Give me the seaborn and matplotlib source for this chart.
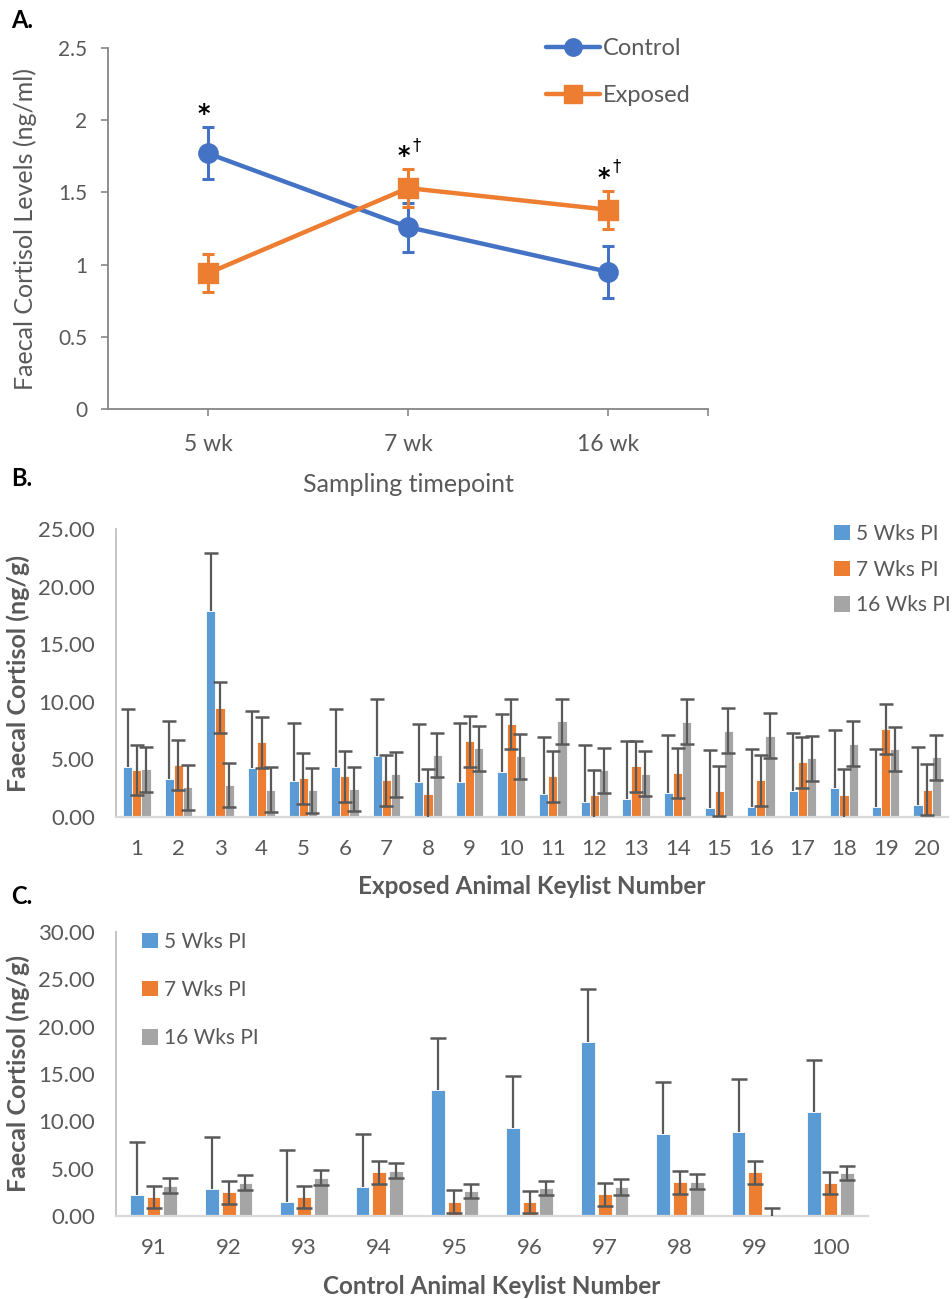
import matplotlib
matplotlib.use("Agg")
import matplotlib.pyplot as plt
from matplotlib.lines import Line2D
from matplotlib.patches import Patch
from matplotlib.container import BarContainer
import numpy as np
import pandas as pd
import seaborn as sns

# ---------------- data ----------------
timepoints = ["5 wk", "7 wk", "16 wk"]
control_mean = [1.77, 1.26, 0.95]
control_err = [0.18, 0.17, 0.18]
exposed_mean = [0.94, 1.53, 1.38]
exposed_err = [0.13, 0.13, 0.13]
annot = ["*", "*\u2020", "*\u2020"]

week_labels = ["5 Wks PI", "7 Wks PI", "16 Wks PI"]

exposed_ids = [str(i) for i in range(1, 21)]
b_wk5 = [4.31, 3.27, 17.90, 4.25, 3.13, 4.34, 5.27, 3.01, 3.07, 3.93,
         2.00, 1.30, 1.54, 2.08, 0.81, 0.90, 2.26, 2.49, 0.84, 1.04]
b_wk5_err = [5.04, 5.03, 5.00, 4.98, 5.06, 5.04, 4.97, 5.06, 5.06, 5.04,
             4.97, 4.98, 5.06, 5.04, 5.03, 4.97, 5.03, 5.04, 5.03, 5.01]
b_wk7 = [4.08, 4.51, 9.49, 6.48, 3.36, 3.53, 3.19, 2.00, 6.57, 8.07,
         3.53, 1.91, 4.40, 3.82, 2.26, 3.19, 4.75, 1.94, 7.64, 2.37]
b_wk7_err = [2.20, 2.20, 2.20, 2.20, 2.20, 2.20, 2.20, 2.20, 2.20, 2.20,
             2.20, 2.20, 2.20, 2.20, 2.20, 2.20, 2.20, 2.20, 2.20, 2.20]
b_wk16 = [4.14, 2.58, 2.78, 2.37, 2.32, 2.43, 3.70, 5.38, 5.96, 5.27,
          8.33, 4.05, 3.76, 8.27, 7.47, 7.06, 5.09, 6.36, 5.90, 5.20]
b_wk16_err = [1.95, 1.95, 1.95, 1.95, 1.95, 1.95, 1.95, 1.95, 1.95, 1.95,
              1.95, 1.95, 1.95, 1.95, 1.95, 1.95, 1.95, 1.95, 1.95, 1.95]

control_ids = [str(i) for i in range(91, 101)]
c_wk5 = [2.20, 2.85, 1.45, 3.09, 13.30, 9.27, 18.40, 8.64, 8.92, 10.97]
c_wk5_err = [5.60, 5.53, 5.55, 5.55, 5.54, 5.53, 5.55, 5.56, 5.58, 5.53]
c_wk7 = [2.00, 2.50, 2.00, 4.60, 1.50, 1.45, 2.29, 3.56, 4.60, 3.49]
c_wk7_err = [1.18, 1.20, 1.16, 1.20, 1.20, 1.18, 1.20, 1.20, 1.20, 1.19]
c_wk16 = [3.20, 3.52, 4.05, 4.80, 2.64, 3.00, 3.06, 3.63, 0.00, 4.55]
c_wk16_err = [0.80, 0.78, 0.80, 0.78, 0.78, 0.75, 0.80, 0.76, 0.80, 0.78]

# ---------------- style ----------------
sns.set_theme(style="white")
FONT = ["Lato", "DejaVu Sans"]
plt.rcParams["font.family"] = FONT
TXT = "#595959"
BLUE_A, ORANGE_A = "#4472C4", "#ED7D31"
BAR_COLORS = ["#5B9BD5", "#ED7D31", "#A5A5A5"]
ERR_C = "#595959"

W, H = 953, 1299
fig = plt.figure(figsize=(W / 100, H / 100), dpi=100)


def fax(l, t, r, b):
    return fig.add_axes([l / W, 1 - b / H, (r - l) / W, (b - t) / H])


# ---------------- panel A ----------------
axA = fax(108, 48, 708, 409)
dfA = pd.DataFrame({
    "time": timepoints * 2,
    "value": control_mean + exposed_mean,
    "group": ["Control"] * 3 + ["Exposed"] * 3,
})
sns.pointplot(data=dfA, x="time", y="value", hue="group", order=timepoints,
              hue_order=["Control", "Exposed"], palette=[BLUE_A, ORANGE_A],
              markers=["o", "s"], errorbar=None, linewidth=3.2, markersize=12.5,
              ax=axA, legend=False)
xs = np.arange(len(timepoints))
axA.errorbar(xs, control_mean, yerr=control_err, fmt="none", ecolor=BLUE_A,
             elinewidth=2.2, capsize=4, capthick=2.2, zorder=1.5)
axA.errorbar(xs, exposed_mean, yerr=exposed_err, fmt="none", ecolor=ORANGE_A,
             elinewidth=2.2, capsize=4, capthick=2.2, zorder=3.5)
for ln in axA.lines:
    if ln.get_color() == ORANGE_A:
        ln.set_zorder(3)
tops = [max(c + ce, e + ee) for c, ce, e, ee in
        zip(control_mean, control_err, exposed_mean, exposed_err)]
for i, (t, a) in enumerate(zip(tops, annot)):
    axA.text(i - 0.02, t + 0.09, "*", ha="center", va="center", fontsize=17,
             color="black", family=["DejaVu Sans"], fontweight="bold")
    if "\u2020" in a:
        axA.text(i + 0.045, t + 0.17, "\u2020", ha="center", va="center",
                 fontsize=12, color="black", family=["DejaVu Sans"])
axA.set_xlim(-0.5, 2.5)
axA.set_ylim(0, 2.5)
axA.set_yticks([0, 0.5, 1, 1.5, 2, 2.5])
axA.set_yticklabels(["0", "0.5", "1", "1.5", "2", "2.5"])
axA.set_xticks([0, 1, 2, 2.5])
axA.set_xticklabels(timepoints + [""])
for s in ["top", "right"]:
    axA.spines[s].set_visible(False)
for s in ["left", "bottom"]:
    axA.spines[s].set_color("#868686")
    axA.spines[s].set_linewidth(1.3)
axA.tick_params(axis="y", length=5, width=1.2, color="#868686", pad=10,
                labelsize=15, labelcolor=TXT, left=True)
axA.tick_params(axis="x", length=5, width=1.2, color="#868686", pad=13,
                labelsize=16.5, labelcolor=TXT, bottom=True, direction="out")
axA.set_xlabel("Sampling timepoint", fontsize=18, color=TXT, labelpad=13)
axA.set_ylabel("Faecal Cortisol Levels (ng/ml)", fontsize=18, color=TXT,
               labelpad=15)
handlesA = [Line2D([], [], color=BLUE_A, marker="o", lw=3.2, markersize=12.5),
            Line2D([], [], color=ORANGE_A, marker="s", lw=3.2, markersize=12.5)]
fig.legend(handlesA, ["Control", "Exposed"], loc="upper left",
           bbox_to_anchor=(546 / W, 1 - 38 / H), frameon=False, fontsize=17,
           handlelength=2.3, handletextpad=0.1, labelspacing=1.1,
           borderpad=0, borderaxespad=0, labelcolor=TXT)


# ---------------- bar panels ----------------
def bar_panel(ax, ids, series, errs, ymax, step, width, gap, capsize):
    df = pd.DataFrame({
        "animal": ids * 3,
        "value": series[0] + series[1] + series[2],
        "week": sum([[w] * len(ids) for w in week_labels], []),
    })
    sns.barplot(data=df, x="animal", y="value", hue="week", order=ids,
                hue_order=week_labels, palette=BAR_COLORS, errorbar=None,
                width=width, gap=gap, saturation=1, edgecolor="white",
                linewidth=0.6, ax=ax, legend=False)
    bars = [c for c in ax.containers if isinstance(c, BarContainer)]
    for k, cont in enumerate(bars):
        xc = [p.get_x() + p.get_width() / 2 for p in cont.patches]
        hv = [p.get_height() for p in cont.patches]
        e = np.array(errs[k])
        yerr = [np.zeros_like(e), e] if k == 0 else [e, e]
        _, caps, _ = ax.errorbar(xc, hv, yerr=yerr, fmt="none", ecolor=ERR_C,
                                 elinewidth=1.6, capsize=capsize,
                                 capthick=1.8, zorder=4)
        if k == 0:
            caps[0].set_visible(False)   # plus-only error bars
    ax.set_xlim(-0.5, len(ids) - 0.5)
    ax.set_ylim(0, ymax)
    ticks = np.arange(0, ymax + 0.01, step)
    ax.set_yticks(ticks)
    ax.set_yticklabels([f"{t:.2f}" for t in ticks])
    for s in ["top", "right"]:
        ax.spines[s].set_visible(False)
    ax.spines["left"].set_color("#BFBFBF")
    ax.spines["bottom"].set_color("#D9D9D9")
    ax.spines["left"].set_linewidth(1.3)
    ax.spines["bottom"].set_linewidth(1.6)
    ax.tick_params(axis="both", length=0, labelsize=16, labelcolor=TXT)
    ax.tick_params(axis="y", pad=15)
    ax.tick_params(axis="x", pad=16)


axB = fax(116, 529, 948, 817)
bar_panel(axB, exposed_ids, [b_wk5, b_wk7, b_wk16],
          [b_wk5_err, b_wk7_err, b_wk16_err], 25, 5, 0.66, 0.0, 5)
axB.set_xlabel("Exposed Animal Keylist Number", fontsize=17.5, color=TXT,
               fontweight="bold", labelpad=11)
axB.set_ylabel("Faecal Cortisol (ng/g)", fontsize=18, color=TXT,
               fontweight="bold", labelpad=6)
handlesBC = [Patch(facecolor=c, edgecolor="none") for c in BAR_COLORS]
fig.legend(handlesBC, week_labels, loc="upper left",
           bbox_to_anchor=(834 / W, 1 - 524 / H), frameon=False, fontsize=15,
           handlelength=0.75, handleheight=0.75, handletextpad=0.3,
           labelspacing=0.75, borderpad=0, borderaxespad=0, labelcolor=TXT)

axC = fax(116, 932, 868, 1216)
bar_panel(axC, control_ids, [c_wk5, c_wk7, c_wk16],
          [c_wk5_err, c_wk7_err, c_wk16_err], 30, 5, 0.665, 0.18, 6)
axC.set_xlabel("Control Animal Keylist Number", fontsize=17.5, color=TXT,
               fontweight="bold", labelpad=12)
axC.set_ylabel("Faecal Cortisol (ng/g)", fontsize=18, color=TXT,
               fontweight="bold", labelpad=6)
fig.legend(handlesBC, week_labels, loc="upper left",
           bbox_to_anchor=(142 / W, 1 - 932 / H), frameon=False, fontsize=15,
           handlelength=0.75, handleheight=0.75, handletextpad=0.3,
           labelspacing=1.35, borderpad=0, borderaxespad=0, labelcolor=TXT)

for lab, y in [("A.", 20), ("B.", 478), ("C.", 897)]:
    fig.text(11 / W, 1 - y / H, lab, fontsize=17, fontweight="bold",
             color="black", ha="left", va="center")

fig.savefig("out.png", dpi=100, facecolor="white")
